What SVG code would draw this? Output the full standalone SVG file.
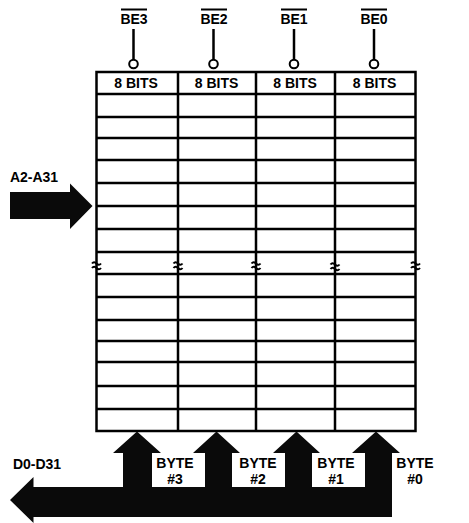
<svg xmlns="http://www.w3.org/2000/svg" width="469" height="523" viewBox="0 0 469 523">
<style>
.t{font-family:"Liberation Sans",Arial,sans-serif;font-weight:bold;font-size:14px;fill:#000;text-anchor:middle}
.g{stroke:#000;stroke-width:2.5;fill:none}
.thin{stroke:#000;stroke-width:2;fill:none}
.blk{fill:#0a0a0a}
</style>
<rect width="469" height="523" fill="#fff"/>
<g id="memory-array">
  <rect class="g" x="96.5" y="72" width="319" height="359"/>
  <g class="g">
    <line x1="178" y1="72" x2="178" y2="431"/>
    <line x1="256" y1="72" x2="256" y2="431"/>
    <line x1="335" y1="72" x2="335" y2="431"/>
    <line x1="96.5" y1="94" x2="415.5" y2="94"/>
    <line x1="96.5" y1="117" x2="415.5" y2="117"/>
    <line x1="96.5" y1="138" x2="415.5" y2="138"/>
    <line x1="96.5" y1="160" x2="415.5" y2="160"/>
    <line x1="96.5" y1="183" x2="415.5" y2="183"/>
    <line x1="96.5" y1="206" x2="415.5" y2="206"/>
    <line x1="96.5" y1="229" x2="415.5" y2="229"/>
    <line x1="96.5" y1="252" x2="415.5" y2="252"/>
    <line x1="96.5" y1="274" x2="415.5" y2="274"/>
    <line x1="96.5" y1="297" x2="415.5" y2="297"/>
    <line x1="96.5" y1="320" x2="415.5" y2="320"/>
    <line x1="96.5" y1="341" x2="415.5" y2="341"/>
    <line x1="96.5" y1="362" x2="415.5" y2="362"/>
    <line x1="96.5" y1="386" x2="415.5" y2="386"/>
    <line x1="96.5" y1="409" x2="415.5" y2="409"/>
  </g>
  <g class="thin" stroke-width="1.6">
    <path d="M92 263.5 q2 -2.5 4.5 0 t4.5 0 M92 268 q2 -2.5 4.5 0 t4.5 0"/>
    <path d="M173.5 263.5 q2 -2.5 4.5 0 t4.5 0 M173.5 268 q2 -2.5 4.5 0 t4.5 0"/>
    <path d="M251.5 263.5 q2 -2.5 4.5 0 t4.5 0 M251.5 268 q2 -2.5 4.5 0 t4.5 0"/>
    <path d="M330.5 264.5 q2 -2.5 4.5 0 t4.5 0 M330.5 269 q2 -2.5 4.5 0 t4.5 0"/>
    <path d="M411 263.5 q2 -2.5 4.5 0 t4.5 0 M411 268 q2 -2.5 4.5 0 t4.5 0"/>
  </g>
  <text class="t" x="136" y="87.5">8 BITS</text>
  <text class="t" x="216.5" y="87.5">8 BITS</text>
  <text class="t" x="295" y="87.5">8 BITS</text>
  <text class="t" x="374.5" y="87.5">8 BITS</text>
</g>
<g id="be3">
  <text class="t" x="134" y="24" font-size="13.5">BE3</text>
  <line class="thin" x1="121" y1="9.5" x2="147" y2="9.5"/>
  <line class="g" x1="133.5" y1="29" x2="133.5" y2="59.5"/>
  <circle class="thin" cx="133.5" cy="64" r="4.3" fill="#fff"/>
</g>
<g id="be2">
  <text class="t" x="214" y="24" font-size="13.5">BE2</text>
  <line class="thin" x1="201" y1="9.5" x2="227" y2="9.5"/>
  <line class="g" x1="213.5" y1="29" x2="213.5" y2="59.5"/>
  <circle class="thin" cx="213.5" cy="64" r="4.3" fill="#fff"/>
</g>
<g id="be1">
  <text class="t" x="294" y="24" font-size="13.5">BE1</text>
  <line class="thin" x1="281" y1="9.5" x2="307" y2="9.5"/>
  <line class="g" x1="294" y1="29" x2="294" y2="59.5"/>
  <circle class="thin" cx="294" cy="64" r="4.3" fill="#fff"/>
</g>
<g id="be0">
  <text class="t" x="374" y="24" font-size="13.5">BE0</text>
  <line class="thin" x1="361" y1="9.5" x2="387" y2="9.5"/>
  <line class="g" x1="374" y1="29" x2="374" y2="59.5"/>
  <circle class="thin" cx="374" cy="64" r="4.3" fill="#fff"/>
</g>
<g id="address">
  <text class="t" x="34" y="182">A2-A31</text>
</g>
<g id="data">
  <text class="t" x="37" y="469">D0-D31</text>
</g>
<g id="bytes">
  <text class="t" x="175" y="468">BYTE</text>
  <text class="t" x="175" y="483.5">#3</text>
  <text class="t" x="258" y="468">BYTE</text>
  <text class="t" x="258" y="483.5">#2</text>
  <text class="t" x="336" y="468">BYTE</text>
  <text class="t" x="336" y="483.5">#1</text>
  <text class="t" x="415" y="468">BYTE</text>
  <text class="t" x="415" y="483.5">#0</text>
</g>
<g id="connectors">
  <path class="blk" d="M10 192 H70 V183.5 L92.5 206 L70 229 V219 H10 Z"/>
  <path class="blk" d="M137 431.5 L161 453 H152 V487 H205 V453 H193 L216.5 431.5 L240 453 H232 V487 H285 V453 H273 L296.5 431.5 L320 453 H312 V487 H365 V453 H352 L376 431.5 L400 453 H392 V517 H33.5 V523 L10 500 L33.5 477 V487 H123 V453 H113 Z"/>
</g>
</svg>
